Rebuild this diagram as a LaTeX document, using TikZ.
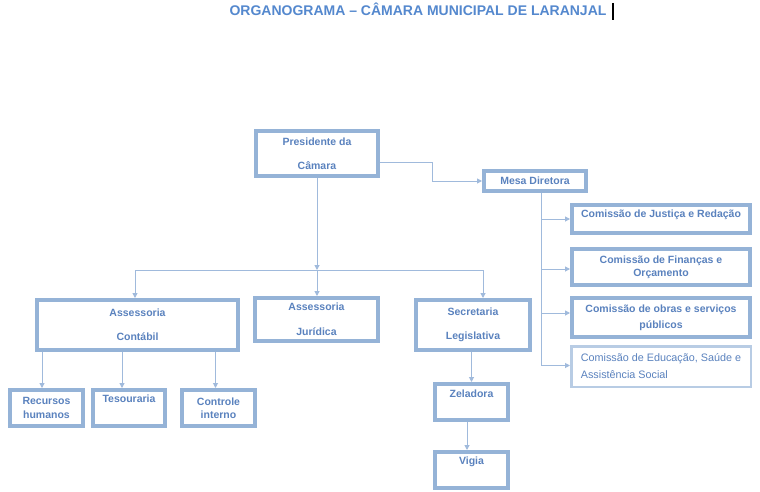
\documentclass[tikz,border=0pt]{standalone}
\usepackage{fontspec}
\setmainfont{Liberation Sans}
\usepackage{tikz}
\usetikzlibrary{arrows.meta}
\definecolor{boxc}{RGB}{149,179,215}
\definecolor{boxl}{RGB}{184,204,228}
\definecolor{linec}{RGB}{160,186,220}
\definecolor{txtc}{RGB}{90,130,190}
\definecolor{titc}{RGB}{84,136,206}

\begin{document}
\begin{tikzpicture}[x=1pt,y=-1pt,
	box/.style = {draw=boxc, line width=4pt, fill=white, text=txtc, align=center, inner sep=1pt,
		font=\bfseries\fontsize{10.5}{12.6}\selectfont},
	lift/.style = {text depth=#1},
	lin/.style = {draw=linec, line width=1pt},
	arr/.style = {lin, -{Triangle[width=5pt,length=5pt]}}]
	\useasboundingbox[fill=white] (0,0) rectangle (760,492);
	\node[text=titc, font=\bfseries\fontsize{14}{16}\selectfont] (title) at (418,9.5) {ORGANOGRAMA – CÂMARA MUNICIPAL DE LARANJAL};
	\draw[line width=1.5pt] (613,3) -- (613,20);
	\node[box, minimum width=122pt, minimum height=45pt] (pres) at (317,153.5) {Presidente da\\[11.4pt]Câmara};
	\node[box, minimum width=102pt, minimum height=20pt] (mesa) at (535,181) {Mesa Diretora};
	\node[box, minimum width=178pt, minimum height=28pt, lift=10pt] (jus) at (661,219) {Comissão de Justiça e Redação};
	\node[box, minimum width=178pt, minimum height=36pt] (fin) at (661,267) {Comissão de Finanças e\\[0.4pt]Orçamento};
	\node[box, minimum width=178pt, minimum height=39pt] (obr) at (661,317.5) {Comissão de obras e serviços\\[3.4pt]públicos};
	\node[box, draw=boxl, line width=2.5pt, minimum width=179.5pt, minimum height=40.5pt,
		font=\fontsize{10.8}{12.6}\selectfont, align=left] (edu) at (661,366.5) {Comissão de Educação, Saúde e\\[4.4pt]Assistência Social};
	\node[box, minimum width=201pt, minimum height=50pt] (cont) at (137.5,325) {Assessoria\\[11.4pt]Contábil};
	\node[box, minimum width=123pt, minimum height=43pt] (jur) at (316.5,319.5) {Assessoria\\[12.4pt]Jurídica};
	\node[box, minimum width=114pt, minimum height=50pt] (sec) at (473,325) {Secretaria\\[11.4pt]Legislativa};
	\node[box, minimum width=73pt, minimum height=36pt] (rh) at (46.5,408) {Recursos\\[1.4pt]humanos};
	\node[box, minimum width=72pt, minimum height=36pt, lift=18pt] (tes) at (129,408) {Tesouraria};
	\node[box, minimum width=73pt, minimum height=36pt] (ci) at (218.5,408) {Controle\\[0.4pt]interno};
	\node[box, minimum width=73pt, minimum height=36pt, lift=16pt] (zel) at (471.5,402) {Zeladora};
	\node[box, minimum width=73pt, minimum height=36pt, lift=18pt] (vig) at (471.5,470) {Vigia};
	% presidente
	\coordinate (m1) at (432,162);
	\draw[arr] (pres.east |- m1) -- (m1) |- (mesa.west);
	\coordinate (b1) at (135,270);
	\coordinate (b3) at (483,270);
	\draw[arr] (pres.south) -- (pres.south |- b1);
	\draw[lin] (b1) -- (b3);
	\draw[arr] (b1) -- (b1 |- cont.north);
	\draw[arr] (pres.south |- b1) -- (pres.south |- jur.north);
	\draw[arr] (b3) -- (b3 |- sec.north);
	% comissoes
	\coordinate (sp) at ([xshift=6pt]mesa.south);
	\draw[lin] (sp) -- ([yshift=1pt]sp |- edu.west);
	\draw[arr] (sp |- jus.west) -- (jus.west);
	\draw[arr] ([yshift=-2pt]sp |- fin.west) -- ([yshift=-2pt]fin.west);
	\draw[arr] ([yshift=4.5pt]sp |- obr.west) -- ([yshift=4.5pt]obr.west);
	\draw[arr] ([yshift=1pt]sp |- edu.west) -- ([yshift=1pt]edu.west);
	% assessoria contabil
	\draw[arr] ([xshift=-4.5pt]rh.north |- cont.south) -- ([xshift=-4.5pt]rh.north);
	\draw[arr] ([xshift=-7pt]tes.north |- cont.south) -- ([xshift=-7pt]tes.north);
	\draw[arr] ([xshift=-3pt]ci.north |- cont.south) -- ([xshift=-3pt]ci.north);
	% secretaria
	\draw[arr] (zel.north |- sec.south) -- (zel.north);
	\draw[arr] ([xshift=-4.5pt]zel.south) -- ([xshift=-4.5pt]vig.north);
\end{tikzpicture}
\end{document}
